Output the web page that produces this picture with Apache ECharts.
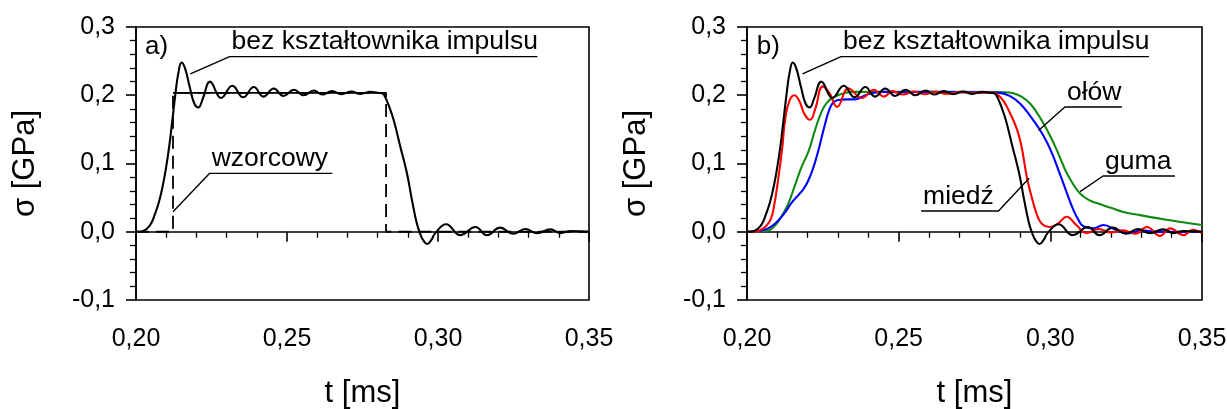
<!DOCTYPE html>
<html>
<head>
<meta charset="utf-8">
<script src="https://cdn.jsdelivr.net/npm/echarts@6/dist/echarts.min.js"></script>
<style>
html,body{margin:0;padding:0;background:#fff;}
#main{width:1227px;height:409px;}
</style>
</head>
<body>
<div id="main"></div>
<script>
// bez kształtownika impulsu (black)
var tBez = [0.200,0.2014,0.2035,0.2050,0.2062,0.2075,0.2088,0.2100,0.2110,0.2120,0.2130,0.2140,0.2151,0.2162,0.2178,0.2192,0.2206,0.2222,0.2245,0.2282,0.2319,0.2355,0.2390,0.2422,0.2456,0.2488,0.2523,0.2555,0.2589,0.2617,0.2649,0.2680,0.2713,0.2743,0.2776,0.2800,0.2815,0.2822,0.2837,0.2853,0.2875,0.2897,0.2914,0.2930,0.2941,0.2952,0.2964,0.2978,0.2991,0.3027,0.3074,0.3124,0.3162,0.3206,0.3249,0.3289,0.3328,0.3372,0.3405,0.3440,0.3500];
var sBez = [0,0,0.004,0.012,0.025,0.042,0.066,0.095,0.125,0.162,0.200,0.232,0.248,0.240,0.212,0.189,0.182,0.196,0.220,0.196,0.214,0.197,0.212,0.198,0.210,0.199,0.208,0.200,0.207,0.201,0.206,0.2015,0.2055,0.202,0.205,0.2035,0.203,0.200,0.185,0.164,0.125,0.086,0.046,0.012,-0.003,-0.013,-0.018,-0.012,-0.002,0.011,-0.005,0.007,-0.005,0.006,-0.003,0.004,-0.002,0.0035,-0.002,0.001,0];

// wzorcowy (dashed steps, flat top)
var tWz = [0.200,0.21225,0.21225,0.2828,0.2828,0.350];
var sWz = [0,0,0.2034,0.2034,0,0];

// miedź (red)
var tMiedz = [0.200,0.2026,0.2045,0.2060,0.2078,0.2090,0.2100,0.2115,0.2126,0.2140,0.2156,0.2172,0.2190,0.2208,0.2225,0.2250,0.2272,0.2297,0.2335,0.2379,0.2418,0.2451,0.2480,0.2515,0.2550,0.2585,0.2620,0.2655,0.2700,0.2750,0.2800,0.2815,0.2823,0.2845,0.2867,0.2890,0.2905,0.2922,0.2933,0.2944,0.2955,0.2966,0.2980,0.2999,0.3025,0.3054,0.3085,0.3120,0.3160,0.3200,0.3240,0.3280,0.3318,0.3362,0.3395,0.3439,0.3470,0.3500];
var sMiedz = [0,0,0.003,0.007,0.018,0.040,0.068,0.118,0.165,0.192,0.200,0.192,0.172,0.164,0.180,0.213,0.203,0.183,0.210,0.196,0.208,0.198,0.206,0.201,0.2055,0.2015,0.205,0.202,0.2045,0.2035,0.204,0.2035,0.202,0.192,0.174,0.150,0.125,0.081,0.060,0.042,0.026,0.015,0.009,0.007,0.012,0.022,0.010,-0.002,0.004,-0.001,0.002,-0.003,0.007,-0.006,0.005,-0.005,0.003,-0.002];

// ołów (blue)
var tOlow = [0.200,0.2040,0.2070,0.2093,0.2120,0.2148,0.2170,0.2187,0.2202,0.2214,0.2225,0.2236,0.2247,0.2258,0.2270,0.2282,0.2300,0.2330,0.2357,0.2380,0.2410,0.2450,0.2500,0.2600,0.2700,0.2800,0.2834,0.2870,0.2900,0.2933,0.2966,0.2990,0.3010,0.3027,0.3043,0.3060,0.3076,0.3092,0.3109,0.3142,0.3175,0.3219,0.3263,0.3300,0.3350,0.3500];
var sOlow = [0,0.001,0.005,0.012,0.025,0.043,0.054,0.063,0.075,0.088,0.103,0.120,0.140,0.159,0.177,0.188,0.193,0.194,0.194,0.198,0.203,0.205,0.2045,0.205,0.2045,0.204,0.2035,0.198,0.188,0.170,0.149,0.130,0.110,0.090,0.071,0.050,0.032,0.018,0.008,0.005,0.010,0.002,-0.002,0.002,0.0,0];

// guma (green)
var tGuma = [0.200,0.2065,0.2090,0.2110,0.2135,0.2158,0.2180,0.2203,0.2225,0.2245,0.2265,0.2290,0.2320,0.2350,0.2500,0.2700,0.2850,0.2878,0.2905,0.2933,0.2955,0.2977,0.3000,0.3021,0.3040,0.3054,0.3075,0.3098,0.3125,0.3153,0.3200,0.3241,0.3300,0.3351,0.3420,0.3500];
var sGuma = [0,0.001,0.008,0.020,0.040,0.068,0.095,0.118,0.150,0.175,0.190,0.198,0.203,0.205,0.205,0.205,0.2045,0.203,0.198,0.188,0.175,0.159,0.140,0.120,0.100,0.086,0.070,0.056,0.047,0.042,0.035,0.029,0.024,0.020,0.015,0.010];

// annotations: text, panel, curve point, underline [tStart, tEnd, s], which end the leader goes from
var annText = ['bez kształtownika impulsu','wzorcowy','bez kształtownika impulsu','miedź','ołów','guma'];
var annPanel = [0,0,1,1,1,1];
var annTip = [[0.2180,0.2312],[0.21225,0.0293],[0.2183,0.2312],[0.2930,0.0783],[0.2961,0.1484],[0.3098,0.0587]];
var annLine = [[0.2310,0.3329,0.2566],[0.2244,0.2650,0.0856],[0.2310,0.3325,0.2566],[0.2574,0.2829,0.0304],[0.3048,0.3236,0.1828],[0.3174,0.3411,0.0817]];
var annSide = ['L','L','L','R','L','L'];
var panelText = ['a)','b)'];
var panelPos = [[0.2030,0.252],[0.2032,0.252]];

function zip(a,b){
	var out=[];
	for(var i=0;i<a.length;i++){ out.push([a[i],b[i]]); }
	return out;
}

var FONT = 'Liberation Sans, Arial, sans-serif';

function xAx(i){
	return {
		type:'value', gridIndex:i, min:0.20, max:0.35, interval:0.05,
		name:'t [ms]', nameLocation:'middle', nameGap:78,
		nameTextStyle:{fontFamily:FONT, fontSize:31, color:'#000'},
		axisLine:{lineStyle:{color:'#000', width:1.6}},
		axisTick:{length:10, lineStyle:{color:'#000', width:1.6}},
		minorTick:{show:true, splitNumber:5, length:6, lineStyle:{color:'#000', width:1.3}},
		splitLine:{show:false},
		axisLabel:{fontFamily:FONT, fontSize:25, color:'#000', margin:27,
			formatter:function(v){ return v.toFixed(2).replace('.',','); }}
	};
}
function yAx(i){
	return {
		type:'value', gridIndex:i, min:-0.1, max:0.3, interval:0.1,
		name:'σ [GPa]', nameLocation:'middle', nameGap:95,
		nameTextStyle:{fontFamily:FONT, fontSize:31, color:'#000'},
		axisLine:{lineStyle:{color:'#000', width:1.6}},
		axisTick:{length:10, lineStyle:{color:'#000', width:1.6}},
		minorTick:{show:true, splitNumber:5, length:6, lineStyle:{color:'#000', width:1.3}},
		splitLine:{show:false},
		axisLabel:{fontFamily:FONT, fontSize:25, color:'#000', margin:21,
			formatter:function(v){ return v.toFixed(1).replace('.',','); }}
	};
}

function curve(name, xi, t, s, color, extra){
	var o = {
		name:name, type:'line', xAxisIndex:xi, yAxisIndex:xi,
		data:zip(t,s), showSymbol:false, symbol:'none', smooth:0.45,
		silent:true, animation:false,
		lineStyle:{color:color, width:2.1}
	};
	for(var k in extra){ o[k]=extra[k]; }
	return o;
}

var series = [
	curve('wzorcowy',0,tWz,sWz,'#000',{smooth:false, lineStyle:{color:'#000', width:1.8, type:[13,7]}}),
	// plateau of the reference pulse is drawn solid in the original
	curve('wzorcowy',0,tWz.slice(2,4),sWz.slice(2,4),'#000',{smooth:false, lineStyle:{color:'#000', width:1.8}}),
	curve('bez kształtownika impulsu',0,tBez,sBez,'#000'),
	curve('guma',1,tGuma,sGuma,'#108a10'),
	curve('ołów',1,tOlow,sOlow,'#0000ff'),
	curve('miedź',1,tMiedz,sMiedz,'#ff0000'),
	curve('bez kształtownika impulsu',1,tBez,sBez,'#000')
];

// leader lines + underlines
for(var i=0;i<annText.length;i++){
	var L = annLine[i], pts;
	if(annSide[i]==='L'){
		pts = [annTip[i],[L[0],L[2]],[L[1],L[2]]];
	}else{
		pts = [[L[0],L[2]],[L[1],L[2]],annTip[i]];
	}
	series.push({
		type:'line', xAxisIndex:annPanel[i], yAxisIndex:annPanel[i],
		data:pts, symbol:'none', silent:true, animation:false,
		lineStyle:{color:'#000', width:1.4}
	});
}

var chart = echarts.init(document.getElementById('main'), null, {renderer:'canvas'});
chart.setOption({
	backgroundColor:'#fff',
	animation:false,
	grid:[
		{left:136, top:27, width:453, height:273, show:true, borderColor:'#000', borderWidth:1.6, outerBoundsMode:'none'},
		{left:747, top:27, width:455, height:273, show:true, borderColor:'#000', borderWidth:1.6, outerBoundsMode:'none'}
	],
	xAxis:[xAx(0), xAx(1)],
	yAxis:[yAx(0), yAx(1)],
	series:series
});

// annotation texts placed from data coordinates
var g = [];
for(var i=0;i<annText.length;i++){
	var p = chart.convertToPixel({gridIndex:annPanel[i]}, [annLine[i][0], annLine[i][2]]);
	g.push({type:'text', x:p[0]+2, y:p[1]-1, silent:true,
		style:{text:annText[i], fill:'#000', font:'26.5px ' + FONT, textAlign:'left', textVerticalAlign:'bottom'}});
}
for(var j=0;j<panelText.length;j++){
	var q = chart.convertToPixel({gridIndex:j}, panelPos[j]);
	g.push({type:'text', x:q[0], y:q[1], silent:true,
		style:{text:panelText[j], fill:'#000', font:'26px ' + FONT, textAlign:'left', textVerticalAlign:'bottom'}});
}
chart.setOption({graphic:g});
</script>
</body>
</html>
